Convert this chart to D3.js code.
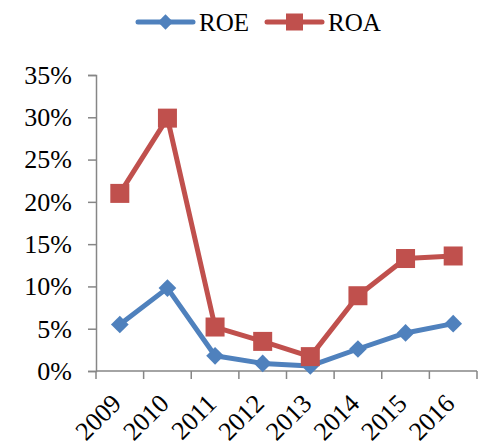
<!DOCTYPE html>
<html>
<head>
<meta charset="utf-8">
<script src="https://cdn.jsdelivr.net/npm/d3@7"></script>
<style>
  html, body { margin: 0; padding: 0; background: #fff; }
  svg { display: block; }
  text { font-family: "Liberation Serif", "DejaVu Serif", serif; fill: #000; }
</style>
</head>
<body>
<svg id="chart" width="486" height="446"></svg>
<script>
// Years on the category axis
const years = ["2009", "2010", "2011", "2012", "2013", "2014", "2015", "2016"];
// Return on equity and return on assets, as fractions
const roe = [0.055, 0.098, 0.018, 0.009, 0.006, 0.026, 0.045, 0.056];
const roa = [0.210, 0.299, 0.052, 0.035, 0.017, 0.089, 0.133, 0.136];
// Value-axis ticks
const yTicks = [0, 0.05, 0.10, 0.15, 0.20, 0.25, 0.30, 0.35];

const seriesNames = ["ROE", "ROA"];
const seriesColors = ["#4F81BD", "#C0504D"];
const seriesValues = [roe, roa];

const svg = d3.select("#chart");
const axisColor = "#868686";

const plotLeft = 96, plotRight = 477, plotTop = 75, plotBottom = 371;

const x = d3.scaleBand().domain(years).range([plotLeft, plotRight]).padding(0);
const y = d3.scaleLinear().domain([0, 0.35]).range([plotBottom, plotTop]);

// Value axis
const yAxis = d3.axisLeft(y)
  .tickValues(yTicks)
  .tickSize(8)
  .tickPadding(16)
  .tickFormat(d3.format(".0%"));
const gy = svg.append("g").attr("transform", `translate(${plotLeft},0)`).call(yAxis);
gy.select(".domain").attr("stroke", axisColor).attr("stroke-width", 1.5);
gy.selectAll(".tick line").attr("stroke", axisColor).attr("stroke-width", 1.5);
gy.selectAll(".tick text")
  .attr("font-family", "Liberation Serif, serif")
  .attr("font-size", 26)
  .attr("fill", "#000");

// Category axis: tick marks sit on the band boundaries
const gx = svg.append("g").attr("transform", `translate(0,${plotBottom})`);
gx.append("line")
  .attr("x1", plotLeft).attr("x2", plotRight)
  .attr("stroke", axisColor).attr("stroke-width", 1.5);
const boundaries = years.map(d => x(d)).concat([x(years[years.length - 1]) + x.bandwidth()]);
gx.selectAll("line.tk").data(boundaries).join("line")
  .attr("class", "tk")
  .attr("x1", d => d).attr("x2", d => d)
  .attr("y1", 0).attr("y2", 8)
  .attr("stroke", axisColor).attr("stroke-width", 1.5);
gx.selectAll("text.lbl").data(years).join("text")
  .attr("class", "lbl")
  .attr("text-anchor", "end")
  .attr("font-size", 26)
  .attr("transform", d => `translate(${x(d) + x.bandwidth() / 2 + 3},${34}) rotate(-45)`)
  .text(d => d);

// Series lines and markers
const line = d3.line()
  .x((d, i) => x(years[i]) + x.bandwidth() / 2)
  .y(d => y(d));

const diamond = d3.symbol().type(d3.symbolDiamond2).size(200);

seriesValues.forEach((vals, si) => {
  const color = seriesColors[si];
  svg.append("path")
    .datum(vals)
    .attr("d", line)
    .attr("fill", "none")
    .attr("stroke", color)
    .attr("stroke-width", 5)
    .attr("stroke-linejoin", "round");
  const pts = svg.append("g").selectAll("g").data(vals).join("g")
    .attr("transform", (d, i) => `translate(${x(years[i]) + x.bandwidth() / 2},${y(d)})`);
  if (si === 0) {
    pts.append("path").attr("d", diamond).attr("fill", color);
  } else {
    pts.append("rect")
      .attr("x", -9.5).attr("y", -9.5)
      .attr("width", 19).attr("height", 19)
      .attr("fill", color);
  }
});

// Legend
const legendItems = [
  { name: seriesNames[0], color: seriesColors[0], x0: 138 },
  { name: seriesNames[1], color: seriesColors[1], x0: 267 }
];
const legendY = 22;
legendItems.forEach((it, i) => {
  const g = svg.append("g");
  g.append("line")
    .attr("x1", it.x0).attr("x2", it.x0 + 55)
    .attr("y1", legendY).attr("y2", legendY)
    .attr("stroke", it.color).attr("stroke-width", 5)
    .attr("stroke-linecap", "round");
  if (i === 0) {
    g.append("path")
      .attr("transform", `translate(${it.x0 + 27.5},${legendY})`)
      .attr("d", d3.symbol().type(d3.symbolDiamond2).size(150))
      .attr("fill", it.color);
  } else {
    g.append("rect")
      .attr("x", it.x0 + 27.5 - 8.5).attr("y", legendY - 8.5)
      .attr("width", 17).attr("height", 17)
      .attr("fill", it.color);
  }
  g.append("text")
    .attr("x", it.x0 + 61)
    .attr("y", 31)
    .attr("font-size", 25)
    .text(it.name);
});
</script>
</body>
</html>
